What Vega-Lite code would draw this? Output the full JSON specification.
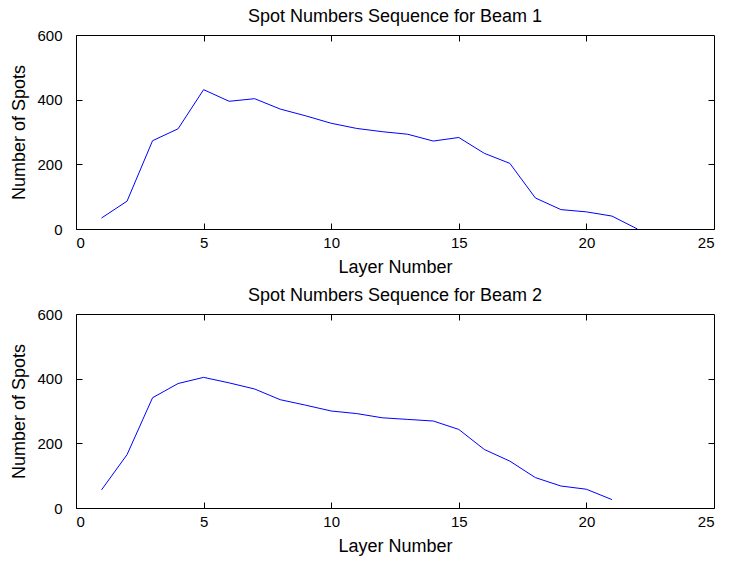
{
  "$schema": "https://vega.github.io/schema/vega-lite/v6.json",
  "background": "white",
  "padding": {"left": 10, "top": 7, "right": 10, "bottom": 2},
  "config": {
    "font": "Liberation Sans",
    "view": {"stroke": "black", "strokeWidth": 1},
    "axis": {
      "grid": false,
      "domain": false,
      "tickColor": "black",
      "tickSize": -6,
      "labelColor": "black",
      "labelFontSize": 15,
      "titleFontSize": 18,
      "titleFontWeight": "normal",
      "titleColor": "black",
      "titlePadding": 8
    },
    "axisX": {"labelPadding": 12},
    "axisY": {"labelPadding": 20},
    "title": {"fontSize": 18, "fontWeight": "normal", "color": "black", "offset": 2, "baseline": "alphabetic"}
  },
  "datasets": {
    "beam1": [
      {"layer": 1, "spots": 34}, {"layer": 2, "spots": 86}, {"layer": 3, "spots": 273},
      {"layer": 4, "spots": 310}, {"layer": 5, "spots": 431}, {"layer": 6, "spots": 395},
      {"layer": 7, "spots": 403}, {"layer": 8, "spots": 371}, {"layer": 9, "spots": 350},
      {"layer": 10, "spots": 327}, {"layer": 11, "spots": 311}, {"layer": 12, "spots": 301},
      {"layer": 13, "spots": 293}, {"layer": 14, "spots": 272}, {"layer": 15, "spots": 283},
      {"layer": 16, "spots": 234}, {"layer": 17, "spots": 203}, {"layer": 18, "spots": 96},
      {"layer": 19, "spots": 60}, {"layer": 20, "spots": 53}, {"layer": 21, "spots": 40},
      {"layer": 22, "spots": 0}
    ],
    "beam2": [
      {"layer": 1, "spots": 56}, {"layer": 2, "spots": 165}, {"layer": 3, "spots": 341},
      {"layer": 4, "spots": 385}, {"layer": 5, "spots": 404}, {"layer": 6, "spots": 387},
      {"layer": 7, "spots": 368}, {"layer": 8, "spots": 335}, {"layer": 9, "spots": 318},
      {"layer": 10, "spots": 300}, {"layer": 11, "spots": 292}, {"layer": 12, "spots": 279},
      {"layer": 13, "spots": 274}, {"layer": 14, "spots": 269}, {"layer": 15, "spots": 243},
      {"layer": 16, "spots": 181}, {"layer": 17, "spots": 145}, {"layer": 18, "spots": 94},
      {"layer": 19, "spots": 68}, {"layer": 20, "spots": 58}, {"layer": 21, "spots": 26}
    ]
  },
  "spacing": 9,
  "vconcat": [
    {
      "title": "Spot Numbers Sequence for Beam 1",
      "width": 638,
      "height": 194,
      "data": {"name": "beam1"},
      "layer": [
        {
          "mark": {"type": "line", "color": "#0000ff", "strokeWidth": 1},
          "encoding": {
            "x": {"field": "layer", "type": "quantitative", "scale": {"domain": [0, 25], "nice": false},
                  "axis": {"title": "Layer Number", "values": [0, 5, 10, 15, 20, 25]}},
            "y": {"field": "spots", "type": "quantitative", "scale": {"domain": [0, 600], "nice": false},
                  "axis": {"title": "Number of Spots", "values": [0, 200, 400, 600]}}
          }
        },
        {
          "mark": {"type": "line", "opacity": 0},
          "encoding": {
            "x": {"field": "layer", "type": "quantitative", "scale": {"domain": [0, 25], "nice": false},
                  "axis": {"orient": "top", "labels": false, "title": null, "values": [5, 10, 15, 20]}},
            "y": {"field": "spots", "type": "quantitative", "scale": {"domain": [0, 600], "nice": false},
                  "axis": {"orient": "right", "labels": false, "title": null, "values": [200, 400]}}
          }
        }
      ],
      "resolve": {"axis": {"x": "independent", "y": "independent"}}
    },
    {
      "title": "Spot Numbers Sequence for Beam 2",
      "width": 638,
      "height": 194,
      "data": {"name": "beam2"},
      "layer": [
        {
          "mark": {"type": "line", "color": "#0000ff", "strokeWidth": 1},
          "encoding": {
            "x": {"field": "layer", "type": "quantitative", "scale": {"domain": [0, 25], "nice": false},
                  "axis": {"title": "Layer Number", "values": [0, 5, 10, 15, 20, 25]}},
            "y": {"field": "spots", "type": "quantitative", "scale": {"domain": [0, 600], "nice": false},
                  "axis": {"title": "Number of Spots", "values": [0, 200, 400, 600]}}
          }
        },
        {
          "mark": {"type": "line", "opacity": 0},
          "encoding": {
            "x": {"field": "layer", "type": "quantitative", "scale": {"domain": [0, 25], "nice": false},
                  "axis": {"orient": "top", "labels": false, "title": null, "values": [5, 10, 15, 20]}},
            "y": {"field": "spots", "type": "quantitative", "scale": {"domain": [0, 600], "nice": false},
                  "axis": {"orient": "right", "labels": false, "title": null, "values": [200, 400]}}
          }
        }
      ],
      "resolve": {"axis": {"x": "independent", "y": "independent"}}
    }
  ]
}
